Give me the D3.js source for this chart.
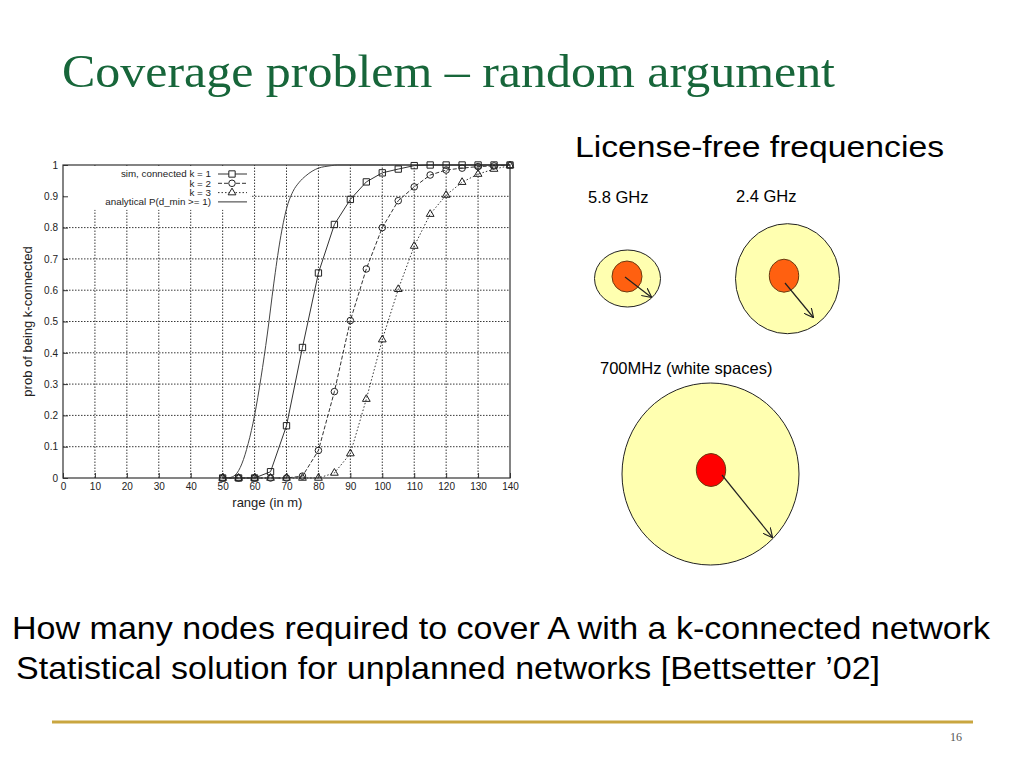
<!DOCTYPE html>
<html>
<head>
<meta charset="utf-8">
<script src="https://cdn.jsdelivr.net/npm/d3@7"></script>
<style>
body{margin:0;background:#fff;}
svg text{font-family:"Liberation Sans",Arial,Helvetica,sans-serif;}
</style>
</head>
<body>
<svg id="slide" width="1024" height="768"></svg>
<script>
'use strict';

// simulated points (range in m -> prob of being k-connected)
const ranges = [50,55,60,65,70,75,80,85,90,95,100,105,110,115,120,125,130,135,140];
const simK1 = [0,0,0,0.02,0.167,0.417,0.655,0.81,0.89,0.946,0.975,0.987,0.998,1,1,1,1,1,1];
const simK2 = [0,0,0,0,0,0.006,0.088,0.276,0.503,0.668,0.80,0.886,0.93,0.968,0.984,0.99,0.995,0.997,1];
const simK3 = [0,0,0,0,0,0,0,0.016,0.078,0.252,0.442,0.603,0.741,0.843,0.904,0.945,0.971,0.987,0.998];

// analytical P(d_min >= 1)
const analyticRange = [50,52,54,56,58,60,62,64,66,68,70,72,74,76,78,80,82,84,86,90,100,110,120,130,140];
const analyticProb  = [0,0.001,0.01,0.045,0.11,0.2,0.32,0.46,0.62,0.76,0.86,0.915,0.945,0.965,0.98,0.99,0.995,0.998,1,1,1,1,1,1,1];

const xTicks = [0,10,20,30,40,50,60,70,80,90,100,110,120,130,140];
const yTicks = [0,0.1,0.2,0.3,0.4,0.5,0.6,0.7,0.8,0.9,1];
const yTickLabels = ['0','0.1','0.2','0.3','0.4','0.5','0.6','0.7','0.8','0.9','1'];

const legendLabels = ['sim, connected k = 1','k = 2','k = 3','analytical P(d_min >= 1)'];
const bandLabels = ['5.8 GHz','2.4 GHz','700MHz (white spaces)'];

const svg = d3.select('#slide');

// ---------------- title ----------------
svg.append('text')
    .attr('x',62).attr('y',87)
    .attr('textLength',773).attr('lengthAdjust','spacingAndGlyphs')
    .style('font-family','"Liberation Serif","DejaVu Serif",serif')
    .style('font-size','47px')
    .attr('fill','#17663a')
    .text('Coverage problem \u2013 random argument');

// ---------------- chart ----------------
var x = d3.scaleLinear().domain([0,140]).range([63,510]);
var y = d3.scaleLinear().domain([0,1]).range([478,165]);

var chart = svg.append('g');

// dotted grid
chart.selectAll('line.vgrid')
    .data(xTicks.slice(1,-1))
    .enter().append('line')
        .attr('class','vgrid')
        .attr('x1',d=>x(d)).attr('x2',d=>x(d))
        .attr('y1',y(0)).attr('y2',y(1))
        .attr('stroke','#222').attr('stroke-width',0.9)
        .attr('stroke-dasharray','1.5,1.5');
chart.selectAll('line.hgrid')
    .data(yTicks.slice(1,-1))
    .enter().append('line')
        .attr('class','hgrid')
        .attr('y1',d=>y(d)).attr('y2',d=>y(d))
        .attr('x1',x(0)).attr('x2',x(140))
        .attr('stroke','#222').attr('stroke-width',0.9)
        .attr('stroke-dasharray','1.5,1.5');

// legend background hides the grid
chart.append('rect')
    .attr('x',x(0)+1).attr('y',y(1)+1)
    .attr('width',x(58.5)-x(0)).attr('height',y(0.86)-y(1))
    .attr('fill','#fff');

// frame
chart.append('rect')
    .attr('x',x(0)).attr('y',y(1))
    .attr('width',x(140)-x(0)).attr('height',y(0)-y(1))
    .attr('fill','none').attr('stroke','#333').attr('stroke-width',1.2);

// axes
var xAxis = chart.append('g')
    .attr('transform','translate(0,'+y(0)+')')
    .call(d3.axisBottom(x).tickValues(xTicks).tickSizeInner(-5).tickSizeOuter(0).tickPadding(5));
var yAxis = chart.append('g')
    .attr('transform','translate('+x(0)+',0)')
    .call(d3.axisLeft(y).tickValues(yTicks).tickFormat((d,i)=>yTickLabels[i]).tickSizeInner(-5).tickSizeOuter(0).tickPadding(5));
[xAxis,yAxis].forEach(function(a){
    a.select('.domain').remove();
    a.selectAll('line').attr('stroke','#333');
    a.selectAll('text').attr('fill','#222').style('font-size','10px');
});

chart.append('text')
    .attr('transform','translate(32,'+y(0.5)+') rotate(-90)')
    .attr('text-anchor','middle')
    .style('font-size','13px').attr('fill','#222')
    .text('prob of being k-connected');
chart.append('text')
    .attr('x',x(64)).attr('y',507)
    .attr('text-anchor','middle')
    .style('font-size','13px').attr('fill','#222')
    .text('range (in m)');

// series
var line = d3.line().x(d=>x(d[0])).y(d=>y(d[1]));
var series = [
    {vals: simK1, dash: null,  mark: 'square'},
    {vals: simK2, dash: '4,2', mark: 'circle'},
    {vals: simK3, dash: '1.5,2', mark: 'triangle'}
];
var symbols = {square: d3.symbolSquare, circle: d3.symbolCircle, triangle: d3.symbolTriangle};
var symSize = {square: 40, circle: 34, triangle: 26};

chart.append('path')
    .datum(analyticRange.map((r,i)=>[r,analyticProb[i]]))
    .attr('d',line.curve(d3.curveMonotoneX))
    .attr('fill','none').attr('stroke','#444').attr('stroke-width',1);
line.curve(d3.curveLinear);

series.forEach(function(s){
    var pts = ranges.map((r,i)=>[r,s.vals[i]]);
    chart.append('path')
        .datum(pts)
        .attr('d',line)
        .attr('fill','none').attr('stroke','#333').attr('stroke-width',1)
        .attr('stroke-dasharray',s.dash);
    chart.selectAll(null)
        .data(pts)
        .enter().append('path')
            .attr('transform',d=>'translate('+x(d[0])+','+y(d[1])+')')
            .attr('d',d3.symbol(symbols[s.mark],symSize[s.mark]))
            .attr('fill','none').attr('stroke','#222').attr('stroke-width',1);
});

// legend
var legend = chart.append('g');
legendLabels.forEach(function(lbl,i){
    var ly = 174 + i*9.3;
    legend.append('text')
        .attr('x',211).attr('y',ly).attr('dy','0.35em')
        .attr('text-anchor','end')
        .style('font-size','9.8px').attr('fill','#222')
        .text(lbl);
    legend.append('line')
        .attr('x1',218).attr('x2',247).attr('y1',ly).attr('y2',ly)
        .attr('stroke','#333').attr('stroke-width',1)
        .attr('stroke-dasharray', i<3 ? series[i].dash : null);
    if(i<3){
        legend.append('path')
            .attr('transform','translate(232,'+ly+')')
            .attr('d',d3.symbol(symbols[series[i].mark],symSize[series[i].mark]))
            .attr('fill','#fff').attr('stroke','#222');
    }
});

// ---------------- frequency circles ----------------
svg.append('defs').append('marker')
    .attr('id','arrow')
    .attr('viewBox','0 0 10 10').attr('refX',9).attr('refY',5)
    .attr('markerWidth',8).attr('markerHeight',8)
    .attr('orient','auto')
    .append('path')
        .attr('d','M0,0 L10,5 L0,10')
        .attr('fill','none').attr('stroke','#222').attr('stroke-width',1.2);

svg.append('text')
    .attr('x',575).attr('y',157)
    .attr('textLength',369).attr('lengthAdjust','spacingAndGlyphs')
    .style('font-size','30px').attr('fill','#000')
    .text('License-free frequencies');

var bandShapes = [
    {label:[588,203], outer:[627.5,278.5,33,28.5], inner:[627,276.5,15,15.5], fill:'#ff6010', arrow:[625,277,651,297]},
    {label:[736,202], outer:[787.5,278.7,52,55],   inner:[784,275.7,14.7,16.5], fill:'#ff6010', arrow:[785,283,813,317]},
    {label:[600,374], outer:[710.5,474,88.5,91],   inner:[711,470,14.7,16.5], fill:'#ff0000', arrow:[722,475,772,537]}
];
var bands = svg.selectAll('g.band')
    .data(bandShapes)
    .enter().append('g').attr('class','band');
bands.append('text')
    .attr('x',d=>d.label[0]).attr('y',d=>d.label[1])
    .style('font-size','16.5px').attr('fill','#000')
    .text((d,i)=>bandLabels[i]);
bands.append('ellipse')
    .attr('cx',d=>d.outer[0]).attr('cy',d=>d.outer[1])
    .attr('rx',d=>d.outer[2]).attr('ry',d=>d.outer[3])
    .attr('fill','#ffffb0').attr('stroke','#222').attr('stroke-width',1);
bands.append('ellipse')
    .attr('cx',d=>d.inner[0]).attr('cy',d=>d.inner[1])
    .attr('rx',d=>d.inner[2]).attr('ry',d=>d.inner[3])
    .attr('fill',d=>d.fill).attr('stroke','#6b3a10').attr('stroke-width',1);
bands.append('line')
    .attr('x1',d=>d.arrow[0]).attr('y1',d=>d.arrow[1])
    .attr('x2',d=>d.arrow[2]).attr('y2',d=>d.arrow[3])
    .attr('stroke','#222').attr('stroke-width',1.2)
    .attr('marker-end','url(#arrow)');

// ---------------- bottom text ----------------
svg.append('text')
    .attr('x',12).attr('y',639)
    .attr('textLength',978).attr('lengthAdjust','spacingAndGlyphs')
    .style('font-size','32px').attr('fill','#000')
    .text('How many nodes required to cover A with a k-connected network');
svg.append('text')
    .attr('x',16).attr('y',679)
    .attr('textLength',864).attr('lengthAdjust','spacingAndGlyphs')
    .style('font-size','32px').attr('fill','#000')
    .text('Statistical solution for unplanned networks [Bettsetter \u201902]');

svg.append('line')
    .attr('x1',52).attr('x2',973).attr('y1',722).attr('y2',722)
    .attr('stroke','#c9a640').attr('stroke-width',3);
svg.append('text')
    .attr('x',962).attr('y',741).attr('text-anchor','end')
    .style('font-family','"Liberation Serif",serif')
    .style('font-size','12px').attr('fill','#555')
    .text('16');
</script>
</body>
</html>
